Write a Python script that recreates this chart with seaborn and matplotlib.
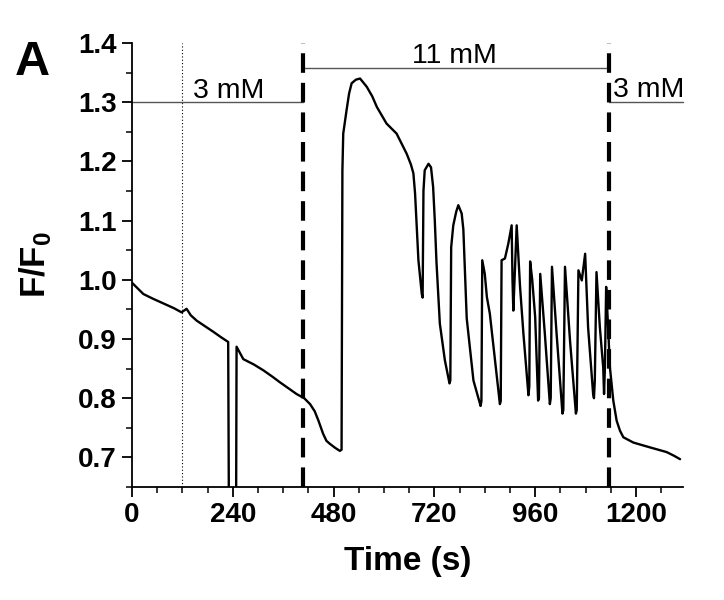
import matplotlib
matplotlib.use("Agg")
import matplotlib.pyplot as plt
from matplotlib.ticker import MultipleLocator
import seaborn as sns
import pandas as pd

# ---- data ----
time_s = [0, 10, 27, 50, 75, 100, 118, 124, 130, 140, 154, 175, 194, 212, 229,
          232, 247, 249, 265, 290, 313, 335, 352, 372, 392, 410, 424, 435, 444,
          455, 463, 471, 484, 495, 499, 501, 503, 511, 517, 523, 533, 543, 559,
          572, 583, 606, 630, 654, 664, 670, 674, 682, 690, 692, 694, 697, 706,
          712, 717, 721, 725, 733, 745, 756, 758, 760, 765, 772, 777, 785, 789,
          797, 813, 830, 832, 834, 840, 845, 852, 860, 876, 878, 880, 888, 896,
          904, 906, 908, 912, 916, 924, 932, 944, 946, 948, 953, 960, 967, 969,
          972, 983, 995, 997, 1000, 1011, 1025, 1027, 1031, 1043, 1057, 1059,
          1063, 1071, 1079, 1086, 1098, 1100, 1102, 1106, 1114, 1122, 1124, 1126,
          1129, 1133, 1138, 1146, 1154, 1162, 1170, 1194, 1233, 1273, 1290, 1305]
f_ratio = [0.995, 0.988, 0.976, 0.968, 0.960, 0.952, 0.945, 0.948, 0.951, 0.940,
           0.931, 0.921, 0.912, 0.903, 0.895, 0.40, 0.40, 0.887, 0.866, 0.857,
           0.847, 0.836, 0.827, 0.817, 0.807, 0.800, 0.790, 0.778, 0.762, 0.740,
           0.728, 0.723, 0.716, 0.711, 0.713, 1.185, 1.247, 1.287, 1.315, 1.332,
           1.338, 1.340, 1.326, 1.310, 1.292, 1.264, 1.247, 1.213, 1.195, 1.180,
           1.146, 1.033, 0.976, 0.970, 1.150, 1.185, 1.196, 1.190, 1.157, 1.100,
           1.030, 0.926, 0.864, 0.825, 0.830, 1.055, 1.092, 1.115, 1.126, 1.112,
           1.085, 0.935, 0.830, 0.787, 0.795, 1.033, 1.010, 0.971, 0.943, 0.892,
           0.790, 0.795, 1.033, 1.036, 1.061, 1.092, 1.000, 0.948, 1.020, 1.092,
           0.988, 0.909, 0.805, 0.820, 1.031, 1.000, 0.937, 0.796, 0.800, 1.010,
           0.909, 0.790, 0.800, 1.022, 0.909, 0.774, 0.780, 1.022, 0.897, 0.774,
           0.780, 1.016, 0.999, 1.044, 0.920, 0.807, 0.800, 0.830, 1.013, 0.920,
           0.852, 0.807, 0.850, 0.988, 0.930, 0.852, 0.796, 0.762, 0.745, 0.734,
           0.725, 0.717, 0.709, 0.703, 0.697]

switch_times = [407, 1135]      # dashed lines: glucose changes
marker_time = [119]             # dotted line
conc_labels = ["3 mM", "11 mM", "3 mM"]
conc_levels = [1.30, 1.358, 1.30]
x_ticks = [0, 240, 480, 720, 960, 1200]
y_ticks = [0.7, 0.8, 0.9, 1.0, 1.1, 1.2, 1.3, 1.4]

sns.set_theme(style="ticks")
plt.rcParams["font.family"] = ["Liberation Sans", "DejaVu Sans"]
plt.rcParams["mathtext.fontset"] = "custom"
plt.rcParams["mathtext.rm"] = "Liberation Sans:bold"
plt.rcParams["mathtext.bf"] = "Liberation Sans:bold"

fig = plt.figure(figsize=(7.24, 6.0), dpi=100)
ax = fig.add_axes([132 / 724, 1 - 487 / 600, (683 - 132) / 724, (487 - 43) / 600])

XMAX = 1312
df = pd.DataFrame({"Time (s)": time_s, "F/F0": f_ratio})
sns.lineplot(data=df, x="Time (s)", y="F/F0", ax=ax, color="black",
             linewidth=1.7, sort=False, estimator=None)

ax.set_xlim(0, XMAX)
ax.set_ylim(0.65, 1.4)

# vertical markers
for t in switch_times:
    ax.axvline(t, color="black", linewidth=3.0, dashes=(4.7, 2.4), zorder=3)
for t in marker_time:
    ax.axvline(t, color="black", linewidth=0.8, linestyle=(0, (1, 2)))

# concentration bars
bounds = [0] + switch_times + [XMAX]
for i, (lab, lev) in enumerate(zip(conc_labels, conc_levels)):
    x0, x1 = bounds[i], bounds[i + 1]
    ax.plot([x0, x1], [lev, lev], color="#555555", linewidth=1.0, clip_on=False)
centers = [231, 767, 1231]
text_y = [1.307, 1.366, 1.309]
for lab, cx, ty in zip(conc_labels, centers, text_y):
    ax.text(cx, ty, lab, ha="center", va="baseline", fontsize=20.5,
            color="black", clip_on=False)

# axes styling
sns.despine(ax=ax)
for s in ["left", "bottom"]:
    ax.spines[s].set_linewidth(1.3)
    ax.spines[s].set_color("black")
ax.set_xticks(x_ticks)
ax.set_yticks(y_ticks)
ax.set_yticklabels([f"{v:.1f}" for v in y_ticks])
ax.xaxis.set_minor_locator(MultipleLocator(60))
ax.yaxis.set_minor_locator(MultipleLocator(0.05))
ax.tick_params(which="major", direction="out", length=7, width=1.3,
               color="black", labelsize=20, pad=4)
ax.tick_params(which="minor", direction="out", length=4, width=1.1, color="black")
for lbl in ax.get_xticklabels() + ax.get_yticklabels():
    lbl.set_fontweight("bold")
    lbl.set_color("black")

ax.set_xlabel("Time (s)", fontsize=24, fontweight="bold", color="black", labelpad=13)
ax.set_ylabel(r"F/F$_\mathbf{0}$", fontsize=25, fontweight="bold", color="black", labelpad=18)

fig.text(15 / 724, 1 - 75 / 600, "A", fontsize=35, fontweight="bold",
         ha="left", va="baseline", color="black")

fig.savefig("out.png", dpi=100, facecolor="white")
